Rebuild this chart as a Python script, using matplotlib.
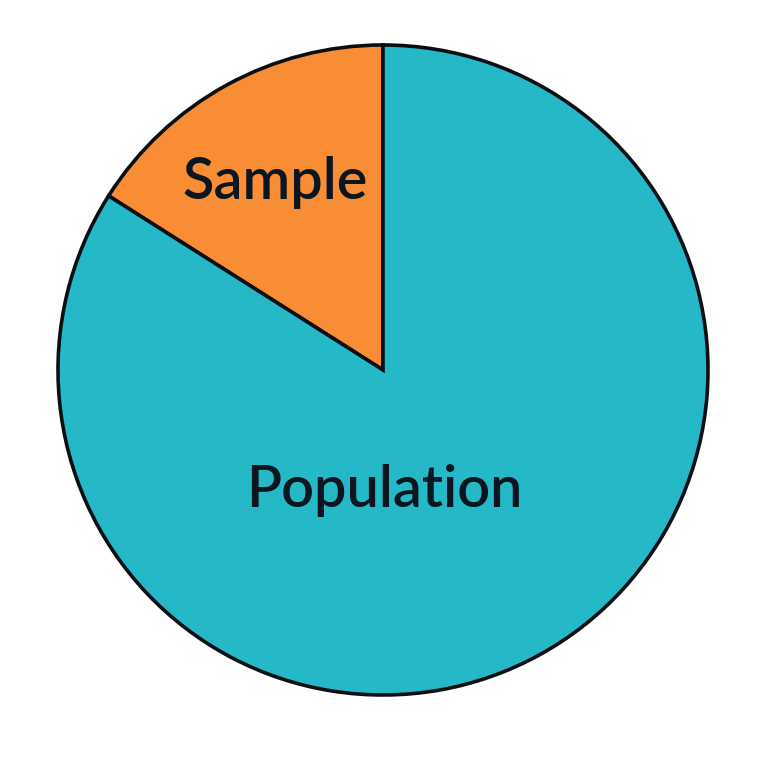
import matplotlib
matplotlib.use("Agg")
import matplotlib.pyplot as plt

categories = ["Sample", "Population"]
values = [16, 84]
colors = ["#F98D35", "#25B9C7"]

fig = plt.figure(figsize=(7.68, 7.68), dpi=100)
ax = fig.add_axes([0, 0, 1, 1])
wedges, _ = ax.pie(values, colors=colors, startangle=90, counterclock=True,
                   radius=1.0,
                   wedgeprops=dict(edgecolor="#0A0F14", linewidth=2.6))
R = 325.0
cx, cy = 383.0, 370.0
ax.set_xlim(-cx / R, (768 - cx) / R)
ax.set_ylim(-(768 - cy) / R, cy / R)
ax.set_aspect("auto")
ax.axis("off")

txt_kw = dict(ha="center", va="center", fontsize=41.5, fontweight="semibold",
              family="Lato", color="#0B1620")
ax.text(-0.333, 0.578, categories[0], **txt_kw)
ax.text(0.003, -0.372, categories[1], **txt_kw)

fig.savefig("out.png", dpi=100, facecolor="white")
